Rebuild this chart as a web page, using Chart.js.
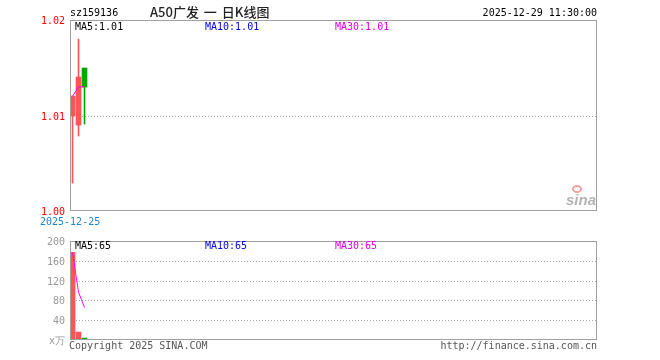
<!DOCTYPE html>
<html>
<head>
<meta charset="utf-8">
<script src="https://cdn.jsdelivr.net/npm/chart.js@4.4.1/dist/chart.umd.min.js"></script>
<style>
html,body{margin:0;padding:0;background:#fff;width:660px;height:360px;overflow:hidden;}
.t{position:absolute;font-family:"DejaVu Sans Mono",monospace;font-size:10px;line-height:12px;white-space:pre;}
canvas{position:absolute;left:0;}
</style>
</head>
<body>
<script>
// ---- data ----
const dates = ["2025-12-25", "2025-12-26", "2025-12-29"];
const openP  = [1.00995, 1.0090, 1.01497];
const closeP = [1.01204, 1.01403, 1.01298];
const highP  = [1.01204, 1.01801, 1.01497];
const lowP   = [1.00293, 1.00785, 1.00911];
const ma5P   = [1.0120, 1.0130, 1.0130];
const volume = [177, 16, 4];
const ma5V   = [177, 96.5, 65.7];
const priceTicks = [1.00, 1.01, 1.02];
const volTicks = [0, 40, 80, 120, 160, 200];
const maLabelsP = ["MA5:1.01", "MA10:1.01", "MA30:1.01"];
const maLabelsV = ["MA5:65", "MA10:65", "MA30:65"];
</script>
<canvas id="cp" width="660" height="230" style="top:0"></canvas>
<canvas id="cv" width="660" height="130" style="top:230px"></canvas>

<div class="t" style="left:70px;top:7px;color:#000">sz159136</div>
<div class="t" style="left:150px;top:4px;font-family:'Noto Sans CJK SC',sans-serif;font-size:13px;line-height:16px;color:#222;word-spacing:2px;font-weight:500">A50广发 一 日K线图</div>
<div class="t" style="right:63px;top:7px;color:#000">2025-12-29 11:30:00</div>

<div class="t" style="left:75px;top:21px;color:#000" id="pm0"></div>
<div class="t" style="left:205px;top:21px;color:#0000e0" id="pm1"></div>
<div class="t" style="left:335px;top:21px;color:#e000e0" id="pm2"></div>

<div class="t" style="left:40px;top:216px;color:#1a86d0">2025-12-25</div>

<div class="t" style="left:75px;top:240px;color:#000" id="vm0"></div>
<div class="t" style="left:205px;top:240px;color:#0000e0" id="vm1"></div>
<div class="t" style="left:335px;top:240px;color:#e000e0" id="vm2"></div>

<div class="t" style="left:69px;top:340px;color:#555">Copyright 2025 SINA.COM</div>
<div class="t" style="right:63px;top:340px;color:#555">http://finance.sina.com.cn</div>

<div style="position:absolute;left:572px;top:185px;width:10px;height:8px;border-radius:50%;border:2px solid #f4a0a0;box-sizing:border-box"></div>
<div class="t" style="left:566px;top:192px;font-family:'Liberation Sans',sans-serif;font-style:italic;font-weight:bold;font-size:15px;line-height:16px;color:#b4b4b4">sina</div>

<script>
document.getElementById('pm0').textContent = maLabelsP[0];
document.getElementById('pm1').textContent = maLabelsP[1];
document.getElementById('pm2').textContent = maLabelsP[2];
document.getElementById('vm0').textContent = maLabelsV[0];
document.getElementById('vm1').textContent = maLabelsV[1];
document.getElementById('vm2').textContent = maLabelsV[2];

const RED = '#ff5555', GREEN = '#00a800';
const upColors = dates.map((d,i) => closeP[i] >= openP[i] ? RED : GREEN);
const XMIN = -0.42, XMAX = XMIN + 527/6;

const framePlugin = {
  id: 'frame',
  beforeDatasetsDraw(chart) {
    const {ctx, chartArea: a} = chart;
    const ys = chart.scales.y;
    ctx.save();
    ctx.strokeStyle = '#aaaaaa';
    ctx.lineWidth = 1;
    ctx.setLineDash([1, 2]);
    ys.ticks.forEach(t => {
      if (t.value <= ys.min || t.value >= ys.max) return;
      const y = Math.round(ys.getPixelForValue(t.value)) + 0.5;
      ctx.beginPath(); ctx.moveTo(a.left, y); ctx.lineTo(a.right, y); ctx.stroke();
    });
    ctx.restore();
  },
  afterDraw(chart) {
    const {ctx, chartArea: a} = chart;
    ctx.save();
    ctx.strokeStyle = '#a0a0a0';
    ctx.lineWidth = 1;
    ctx.strokeRect(a.left + 0.5, a.top + 0.5, a.right - a.left - 1, a.bottom - a.top - 1);
    ctx.restore();
  }
};

function xScale() {
  return { type: 'linear', display: false, offset: false, min: XMIN, max: XMAX, grid: {display: false, offset: false} };
}
function yScale(min, max, ticks, color, fmt) {
  return {
    type: 'linear', min: min, max: max,
    afterFit(s) { s.width = 70; },
    afterBuildTicks(s) { s.ticks = ticks.map(v => ({value: v})); },
    grid: {display: false, drawTicks: false},
    border: {display: false},
    ticks: {
      color: color, padding: 5, autoSkip: false, labelOffset: 1.5,
      font: {family: 'DejaVu Sans Mono', size: 10},
      callback: fmt
    }
  };
}

new Chart(document.getElementById('cp'), {
  data: {
    datasets: [
      { type: 'bar', order: 3, grouped: false, barThickness: 1,
        data: dates.map((d,i) => ({x: i, y: [lowP[i], highP[i]]})),
        backgroundColor: upColors, borderWidth: 0 },
      { type: 'bar', order: 2, grouped: false, barThickness: 5,
        data: dates.map((d,i) => ({x: i, y: [openP[i], closeP[i]]})),
        backgroundColor: upColors, borderWidth: 0 },
      { type: 'line', order: 1,
        data: dates.map((d,i) => ({x: i, y: ma5P[i]})),
        borderColor: '#ff00ff', borderWidth: 1, pointRadius: 0, tension: 0 }
    ]
  },
  options: {
    responsive: false, animation: false, events: [],
    layout: {padding: {left: 0, right: 63, top: 20, bottom: 19}},
    plugins: {legend: {display: false}, tooltip: {enabled: false}},
    scales: {
      x: xScale(),
      y: yScale(1.00, 1.02, priceTicks, '#ff0000', v => v.toFixed(2))
    }
  },
  plugins: [framePlugin]
});

new Chart(document.getElementById('cv'), {
  data: {
    datasets: [
      { type: 'bar', order: 2, grouped: false, barThickness: 5,
        data: dates.map((d,i) => ({x: i, y: volume[i]})),
        backgroundColor: upColors, borderWidth: 0 },
      { type: 'line', order: 1,
        data: dates.map((d,i) => ({x: i, y: ma5V[i]})),
        borderColor: '#ff00ff', borderWidth: 1, pointRadius: 0, tension: 0 }
    ]
  },
  options: {
    responsive: false, animation: false, events: [],
    layout: {padding: {left: 0, right: 63, top: 10, bottom: 20}},
    plugins: {legend: {display: false}, tooltip: {enabled: false}},
    scales: {
      x: xScale(),
      y: yScale(0, 200, volTicks, '#999999', v => v === 0 ? 'x万' : String(v))
    }
  },
  plugins: [framePlugin]
});
</script>
</body>
</html>
